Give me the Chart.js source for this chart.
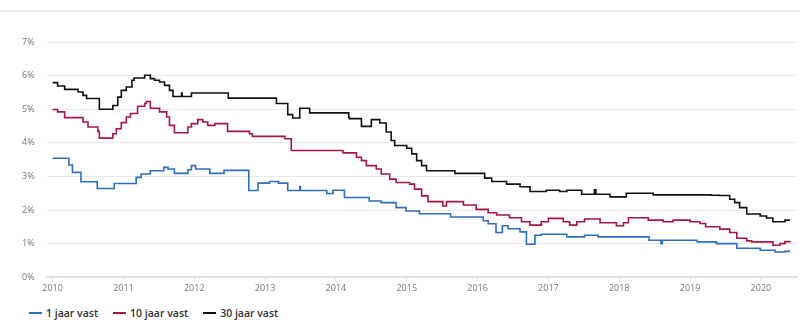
<!DOCTYPE html>
<html>
<head>
<meta charset="utf-8">
<script src="https://cdn.jsdelivr.net/npm/chart.js@4/dist/chart.umd.min.js"></script>
<style>
  body { margin: 0; background: #fff; font-family: "Open Sans", sans-serif; }
  #wrap { position: relative; width: 800px; height: 325px; overflow: hidden; }
  #topline { position: absolute; left: 0; top: 10px; width: 800px; height: 2px; background: #eeeeee; }
  #box { position: absolute; left: 0; top: 0; width: 800px; height: 300px; }
  #legend { position: absolute; left: 29px; top: 306px; display: flex; font-size: 10.5px; font-weight: 600; color: #333; }
  #legend .item { display: flex; align-items: center; margin-right: 15px; }
  #legend .swatch { width: 13px; height: 2px; margin-right: 4px; }
</style>
</head>
<body>
<div id="wrap">
  <div id="topline"></div>
  <div id="box"><canvas id="rateChart"></canvas></div>
  <div id="legend"></div>
</div>
<script>
// rentestanden hypotheek, in %, per wijzigingsmoment (decimaal jaar)
const yearTicks = [2010, 2011, 2012, 2013, 2014, 2015, 2016, 2017, 2018, 2019, 2020];
const rateTicks = [0, 1, 2, 3, 4, 5, 6, 7];
const seriesLabels = ['1 jaar vast', '10 jaar vast', '30 jaar vast'];

const jaar1Dates = [2010.00, 2010.23, 2010.28, 2010.40, 2010.63, 2010.87, 2011.18, 2011.25, 2011.38, 2011.57,
  2011.63, 2011.72, 2011.91, 2011.96, 2012.02, 2012.22, 2012.42, 2012.77, 2012.90, 2013.06,
  2013.19, 2013.32, 2013.49, 2013.50, 2013.87, 2013.96, 2014.12, 2014.47, 2014.64, 2014.85,
  2014.99, 2015.18, 2015.62, 2016.08, 2016.15, 2016.26, 2016.35, 2016.43, 2016.60, 2016.69,
  2016.81, 2016.90, 2017.26, 2017.51, 2017.70, 2018.42, 2018.59, 2018.61, 2019.10, 2019.37,
  2019.66, 2019.99, 2020.20, 2020.34, 2020.40];
const jaar1Rates = [3.54, 3.34, 3.12, 2.84, 2.64, 2.79, 2.97, 3.07, 3.17, 3.27,
  3.22, 3.09, 3.20, 3.32, 3.22, 3.09, 3.18, 2.58, 2.80, 2.85,
  2.80, 2.58, 2.70, 2.58, 2.49, 2.59, 2.37, 2.27, 2.22, 2.07,
  1.97, 1.89, 1.79, 1.68, 1.59, 1.33, 1.53, 1.44, 1.35, 0.98,
  1.25, 1.28, 1.20, 1.25, 1.20, 1.10, 1.00, 1.10, 1.05, 1.00,
  0.86, 0.80, 0.75, 0.77, 0.80];

const jaar10Dates = [2010.00, 2010.07, 2010.17, 2010.43, 2010.50, 2010.64, 2010.66, 2010.85, 2010.90, 2010.97,
  2011.04, 2011.10, 2011.20, 2011.30, 2011.32, 2011.38, 2011.51, 2011.61, 2011.65, 2011.72,
  2011.91, 2011.96, 2012.05, 2012.12, 2012.19, 2012.29, 2012.47, 2012.78, 2012.82, 2013.28,
  2013.37, 2014.10, 2014.29, 2014.36, 2014.43, 2014.57, 2014.64, 2014.76, 2014.85, 2015.04,
  2015.11, 2015.21, 2015.30, 2015.51, 2015.56, 2015.80, 2015.98, 2016.15, 2016.27, 2016.45,
  2016.62, 2016.74, 2016.90, 2017.00, 2017.21, 2017.30, 2017.40, 2017.51, 2017.73, 2017.96,
  2018.06, 2018.13, 2018.41, 2018.62, 2018.76, 2019.00, 2019.14, 2019.22, 2019.42, 2019.56,
  2019.66, 2019.80, 2019.87, 2020.17, 2020.27, 2020.34, 2020.41];
const jaar10Rates = [4.99, 4.92, 4.75, 4.62, 4.47, 4.34, 4.14, 4.27, 4.42, 4.60,
  4.77, 4.87, 5.09, 5.17, 5.23, 5.03, 4.92, 4.77, 4.52, 4.30,
  4.47, 4.57, 4.69, 4.62, 4.52, 4.57, 4.34, 4.27, 4.19, 4.12,
  3.77, 3.70, 3.57, 3.47, 3.32, 3.22, 3.07, 2.92, 2.82, 2.77,
  2.62, 2.42, 2.25, 2.12, 2.25, 2.15, 2.02, 1.92, 1.85, 1.77,
  1.65, 1.55, 1.65, 1.75, 1.65, 1.55, 1.65, 1.73, 1.62, 1.53,
  1.62, 1.77, 1.70, 1.65, 1.70, 1.65, 1.60, 1.50, 1.43, 1.33,
  1.16, 1.08, 1.05, 0.95, 1.00, 1.06, 1.08];

const jaar30Dates = [2010.00, 2010.07, 2010.17, 2010.36, 2010.43, 2010.48, 2010.66, 2010.85, 2010.92, 2010.97,
  2011.04, 2011.12, 2011.15, 2011.30, 2011.38, 2011.44, 2011.51, 2011.58, 2011.65, 2011.70,
  2011.82, 2011.83, 2011.96, 2012.48, 2013.16, 2013.32, 2013.39, 2013.49, 2013.63, 2014.17,
  2014.18, 2014.19, 2014.36, 2014.50, 2014.62, 2014.71, 2014.78, 2014.83, 2015.00, 2015.07,
  2015.14, 2015.21, 2015.28, 2015.68, 2016.10, 2016.20, 2016.41, 2016.60, 2016.74, 2016.97,
  2017.16, 2017.26, 2017.47, 2017.65, 2017.67, 2017.87, 2018.10, 2018.48, 2019.30, 2019.42,
  2019.56, 2019.63, 2019.70, 2019.80, 2019.99, 2020.08, 2020.17, 2020.34, 2020.41];
const jaar30Rates = [5.79, 5.69, 5.59, 5.51, 5.41, 5.32, 5.00, 5.11, 5.36, 5.56,
  5.66, 5.86, 5.93, 6.01, 5.91, 5.86, 5.81, 5.71, 5.56, 5.38,
  5.48, 5.38, 5.48, 5.33, 5.17, 4.84, 4.74, 5.03, 4.89, 4.89,
  4.76, 4.72, 4.49, 4.69, 4.59, 4.32, 4.07, 3.92, 3.84, 3.67,
  3.47, 3.32, 3.17, 3.09, 2.95, 2.85, 2.77, 2.69, 2.55, 2.59,
  2.55, 2.59, 2.47, 2.60, 2.47, 2.39, 2.50, 2.45, 2.44, 2.43,
  2.32, 2.22, 2.07, 1.88, 1.82, 1.76, 1.65, 1.70, 1.70];

const seriesColors = ['#2f6dbf', '#a8163f', '#111111'];

function toPoints(dates, rates) {
  return dates.map((d, i) => ({ x: d, y: rates[i] }));
}

const allSeries = [
  toPoints(jaar1Dates, jaar1Rates),
  toPoints(jaar10Dates, jaar10Rates),
  toPoints(jaar30Dates, jaar30Rates),
];

const tickFont = { family: '"Open Sans", sans-serif', size: 9 };

const config = {
  type: 'line',
  data: {
    datasets: allSeries.map((pts, i) => ({
      label: seriesLabels[i],
      data: pts,
      borderColor: seriesColors[i],
      borderWidth: 1.6,
      stepped: 'before',
      pointRadius: 0,
      fill: false,
    }))
  },
  options: {
    responsive: false,
    animation: false,
    layout: { padding: { left: 10, right: 3, top: 42, bottom: 4 } },
    plugins: { legend: { display: false }, tooltip: { enabled: false } },
    scales: {
      x: {
        type: 'linear',
        min: 2009.915,
        max: 2020.51,
        afterBuildTicks: axis => { axis.ticks = yearTicks.map(v => ({ value: v })); },
        ticks: { color: '#777', font: tickFont, padding: 2, autoSkip: false, maxRotation: 0,
          callback: v => String(v) },
        grid: { drawOnChartArea: false, drawTicks: true, tickLength: 4, color: '#dde2ea' },
        border: { color: '#dde2ea', width: 2 },
      },
      y: {
        min: 0,
        max: 7,
        afterBuildTicks: axis => { axis.ticks = rateTicks.map(v => ({ value: v })); },
        ticks: { color: '#777', font: tickFont, padding: 12, callback: v => v + '%' },
        grid: { color: '#e9e9e9', drawTicks: false },
        border: { display: false },
      }
    }
  }
};

const canvas = document.getElementById('rateChart');
canvas.width = 800;
canvas.height = 300;
new Chart(canvas, config);

// legend onder de grafiek
const legend = document.getElementById('legend');
seriesLabels.forEach((lbl, i) => {
  const item = document.createElement('div');
  item.className = 'item';
  item.innerHTML = '<span class="swatch" style="background:' + seriesColors[i] + '"></span><span>' + lbl + '</span>';
  legend.appendChild(item);
});
</script>
</body>
</html>
